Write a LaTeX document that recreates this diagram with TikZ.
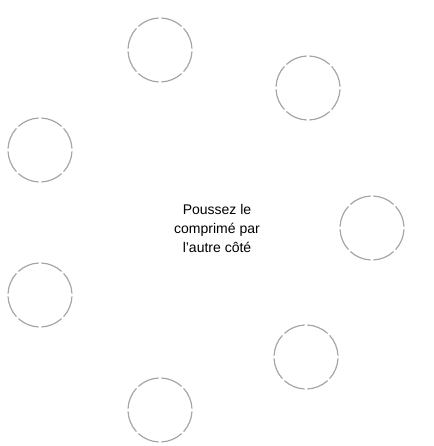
\documentclass[tikz,border=0pt]{standalone}
\usepackage{fontspec}
\setmainfont{Liberation Sans}
\usepackage{tikz}

\begin{document}
\begin{tikzpicture}[
  x=1pt, y=-1pt,
  every node/.style = {font=\fontsize{14}{19}\selectfont},
  ring/.style       = {circle, minimum size=64pt, inner sep=0pt},
  ringarc/.style    = {draw=gray!70, line width=1.2pt},
  centretext/.style = {align=center, text=black},
]
\useasboundingbox (0,0) rectangle (433,446);

% ── Rings around the tablet ──────────────────────────────────
\node[ring] (top)   at (160,  50) {};
\node[ring] (upr)   at (308,  88) {};
\node[ring] (right) at (372, 228) {};
\node[ring] (lowr)  at (306, 357) {};
\node[ring] (bot)   at (160, 410) {};
\node[ring] (lowl)  at ( 40, 295) {};
\node[ring] (upl)   at ( 40, 150) {};

% ── Broken outline of each ring ──────────────────────────────
\foreach \r in {top,upr,right,lowr,bot,lowl,upl}
  \foreach \a in {0,45,...,315}
    \draw[ringarc] (\r.center) ++(\a+2.5:32)
      arc[start angle=\a+2.5, end angle=\a+42.5, radius=32];

% ── Centre instruction ───────────────────────────────────────
\node[centretext] (msg) at (217, 228) {Poussez le\\comprimé par\\l'autre côté};

\end{tikzpicture}
\end{document}
